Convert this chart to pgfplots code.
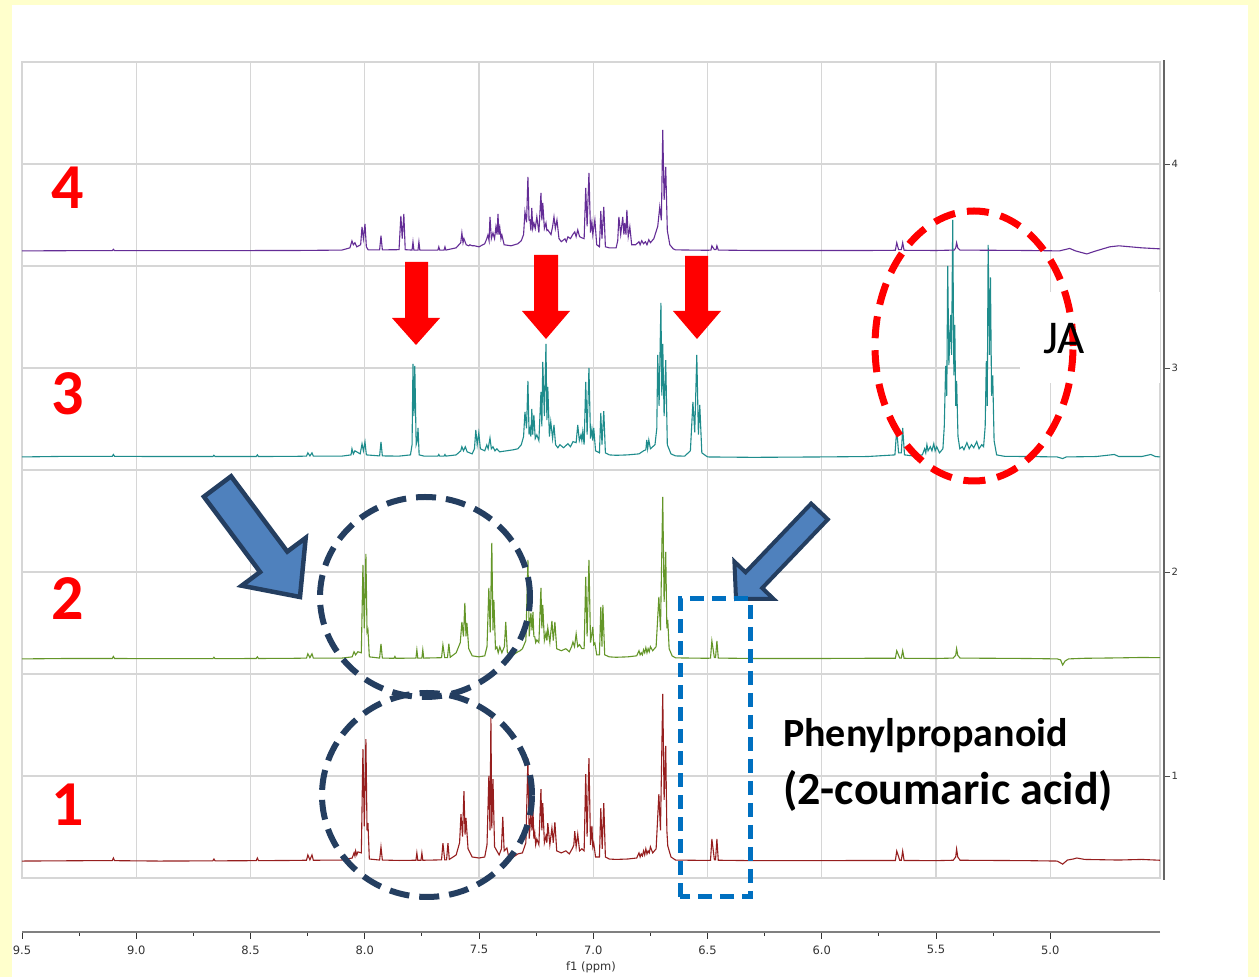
\documentclass[border=0pt]{standalone}
\usepackage{pgfplots}
\pgfplotsset{compat=1.18}
\usepackage{pgfplotstable}
\usepackage{fontspec}
\setmainfont{Carlito}
\newfontfamily\tickfont{DejaVu Sans}

\definecolor{bgyellow}{RGB}{255,255,204}
\definecolor{gridgray}{RGB}{214,214,214}
\definecolor{specred}{RGB}{150,30,30}
\definecolor{specgreen}{RGB}{100,150,40}
\definecolor{specteal}{RGB}{30,140,140}
\definecolor{specpurple}{RGB}{100,45,150}
\definecolor{navy}{RGB}{36,62,96}
\definecolor{arrowblue}{RGB}{79,129,189}
\definecolor{boxblue}{RGB}{0,112,192}

% spectrum 1 (bottom, red): ppm, intensity above baseline
\pgfplotstableread{
x y
9.50 0.000
9.20 0.002
9.105 0.002
9.100 0.015
9.095 0.002
8.90 0.000
8.665 0.001
8.660 0.010
8.655 0.001
8.475 0.002
8.470 0.015
8.465 0.002
8.33 0.003
8.255 0.004
8.249 0.030
8.240 0.006
8.231 0.030
8.225 0.004
8.10 0.005
8.055 0.015
8.047 0.040
8.043 0.025
8.040 0.050
8.035 0.030
8.030 0.045
8.015 0.040
8.008 0.549
8.002 0.170
7.995 0.598
7.990 0.150
7.986 0.186
7.980 0.010
7.935 0.005
7.929 0.069
7.923 0.005
7.85 0.003
7.776 0.004
7.772 0.040
7.768 0.004
7.754 0.004
7.750 0.040
7.746 0.004
7.70 0.005
7.664 0.006
7.658 0.088
7.650 0.006
7.642 0.006
7.636 0.088
7.630 0.008
7.600 0.030
7.585 0.090
7.579 0.230
7.572 0.120
7.566 0.343
7.561 0.130
7.557 0.211
7.548 0.060
7.530 0.020
7.50 0.015
7.475 0.020
7.465 0.080
7.457 0.417
7.452 0.150
7.448 0.701
7.444 0.160
7.439 0.402
7.432 0.070
7.422 0.050
7.412 0.030
7.402 0.060
7.396 0.216
7.390 0.050
7.378 0.064
7.370 0.020
7.350 0.020
7.330 0.035
7.310 0.040
7.295 0.090
7.286 0.505
7.280 0.110
7.273 0.235
7.268 0.150
7.264 0.255
7.260 0.110
7.256 0.137
7.252 0.080
7.247 0.108
7.238 0.080
7.229 0.353
7.225 0.150
7.221 0.284
7.214 0.090
7.207 0.123
7.203 0.090
7.199 0.186
7.190 0.080
7.181 0.162
7.175 0.090
7.168 0.191
7.160 0.050
7.140 0.040
7.120 0.050
7.105 0.035
7.090 0.065
7.085 0.080
7.081 0.147
7.075 0.070
7.068 0.132
7.060 0.050
7.050 0.060
7.040 0.050
7.033 0.426
7.027 0.120
7.019 0.505
7.012 0.080
7.006 0.172
7.002 0.070
6.998 0.088
6.990 0.020
6.973 0.020
6.967 0.260
6.961 0.060
6.954 0.284
6.947 0.020
6.93 0.010
6.90 0.008
6.85 0.010
6.81 0.015
6.800 0.040
6.795 0.020
6.790 0.035
6.785 0.025
6.780 0.050
6.775 0.030
6.770 0.060
6.765 0.035
6.760 0.050
6.755 0.040
6.750 0.070
6.740 0.040
6.725 0.060
6.713 0.328
6.706 0.150
6.696 0.819
6.690 0.300
6.683 0.564
6.678 0.150
6.674 0.074
6.660 0.020
6.640 0.005
6.50 0.003
6.487 0.004
6.481 0.108
6.470 0.006
6.465 0.006
6.459 0.108
6.453 0.004
6.30 0.002
6.00 0.002
5.80 0.003
5.678 0.003
5.672 0.049
5.659 0.004
5.652 0.004
5.646 0.049
5.640 0.003
5.50 0.002
5.425 0.004
5.414 0.020
5.410 0.059
5.405 0.020
5.395 0.004
5.10 0.002
4.97 0.000
4.946 -0.015
4.925 0.005
4.90 0.010
4.884 0.015
4.85 0.008
4.70 0.005
4.60 0.008
4.52 0.004
}\traceone

% spectrum 2 (green)
\pgfplotstableread{
x y
9.50 0.000
9.30 0.002
9.105 0.002
9.100 0.012
9.095 0.002
8.90 0.001
8.665 0.001
8.660 0.008
8.655 0.001
8.475 0.002
8.470 0.010
8.465 0.002
8.30 0.003
8.255 0.004
8.249 0.025
8.240 0.006
8.231 0.025
8.225 0.004
8.10 0.004
8.055 0.010
8.047 0.035
8.040 0.020
8.030 0.035
8.015 0.030
8.008 0.461
8.002 0.150
7.995 0.515
7.990 0.130
7.986 0.142
7.980 0.010
7.935 0.004
7.929 0.074
7.923 0.004
7.872 0.003
7.868 0.012
7.864 0.003
7.776 0.004
7.772 0.044
7.768 0.004
7.750 0.004
7.746 0.044
7.742 0.004
7.70 0.005
7.664 0.006
7.658 0.069
7.650 0.006
7.638 0.006
7.632 0.074
7.626 0.008
7.600 0.030
7.582 0.080
7.575 0.181
7.568 0.110
7.562 0.275
7.557 0.110
7.553 0.176
7.545 0.050
7.530 0.015
7.500 0.010
7.475 0.015
7.465 0.060
7.457 0.348
7.451 0.130
7.444 0.569
7.439 0.140
7.435 0.289
7.428 0.050
7.422 0.059
7.416 0.030
7.409 0.059
7.400 0.030
7.389 0.060
7.383 0.181
7.376 0.030
7.350 0.020
7.330 0.035
7.320 0.040
7.310 0.050
7.295 0.090
7.286 0.485
7.280 0.110
7.273 0.225
7.268 0.140
7.264 0.230
7.260 0.110
7.256 0.108
7.252 0.080
7.247 0.093
7.238 0.080
7.229 0.348
7.225 0.150
7.221 0.265
7.214 0.090
7.207 0.127
7.203 0.090
7.199 0.152
7.190 0.080
7.181 0.186
7.175 0.090
7.168 0.181
7.160 0.050
7.140 0.040
7.120 0.050
7.105 0.035
7.095 0.060
7.089 0.083
7.082 0.060
7.075 0.123
7.068 0.060
7.060 0.070
7.050 0.050
7.040 0.050
7.033 0.402
7.027 0.110
7.019 0.485
7.012 0.080
7.002 0.157
6.998 0.070
6.993 0.078
6.985 0.020
6.973 0.020
6.967 0.255
6.962 0.060
6.958 0.265
6.950 0.020
6.93 0.010
6.90 0.008
6.85 0.010
6.81 0.015
6.800 0.040
6.795 0.020
6.790 0.030
6.785 0.020
6.780 0.045
6.775 0.030
6.770 0.055
6.765 0.030
6.760 0.050
6.755 0.035
6.750 0.060
6.740 0.040
6.725 0.060
6.713 0.304
6.706 0.140
6.696 0.794
6.690 0.280
6.683 0.525
6.678 0.150
6.674 0.191
6.668 0.050
6.655 0.015
6.640 0.005
6.50 0.003
6.487 0.004
6.481 0.088
6.470 0.006
6.465 0.006
6.459 0.088
6.453 0.004
6.30 0.002
6.00 0.002
5.80 0.003
5.678 0.003
5.672 0.040
5.659 0.004
5.652 0.004
5.646 0.040
5.640 0.003
5.50 0.002
5.425 0.004
5.414 0.018
5.410 0.050
5.405 0.018
5.395 0.004
5.10 0.002
4.97 0.000
4.955 -0.005
4.946 -0.030
4.935 -0.010
4.92 0.000
4.85 0.003
4.70 0.005
4.60 0.007
4.52 0.006
}\tracetwo

% spectrum 3 (teal)
\pgfplotstableread{
x y
9.50 0.000
9.30 0.003
9.105 0.003
9.100 0.012
9.095 0.003
8.90 0.002
8.665 0.002
8.660 0.008
8.655 0.002
8.475 0.002
8.470 0.010
8.465 0.002
8.30 0.003
8.255 0.004
8.249 0.020
8.240 0.005
8.231 0.020
8.225 0.004
8.10 0.004
8.060 0.010
8.056 0.040
8.050 0.015
8.043 0.030
8.020 0.015
8.012 0.064
8.006 0.030
7.999 0.074
7.993 0.010
7.935 0.005
7.929 0.074
7.923 0.005
7.85 0.004
7.800 0.010
7.793 0.060
7.789 0.456
7.785 0.200
7.781 0.446
7.775 0.060
7.770 0.080
7.767 0.142
7.762 0.010
7.74 0.004
7.680 0.004
7.676 0.012
7.672 0.004
7.653 0.004
7.649 0.012
7.645 0.004
7.600 0.010
7.580 0.030
7.575 0.050
7.568 0.030
7.560 0.050
7.552 0.025
7.530 0.015
7.520 0.040
7.514 0.132
7.508 0.060
7.501 0.118
7.494 0.040
7.475 0.030
7.466 0.059
7.460 0.040
7.452 0.093
7.446 0.040
7.439 0.050
7.430 0.030
7.422 0.040
7.410 0.025
7.380 0.030
7.350 0.035
7.330 0.040
7.315 0.060
7.305 0.100
7.299 0.221
7.292 0.140
7.286 0.373
7.281 0.110
7.277 0.137
7.273 0.100
7.269 0.235
7.265 0.110
7.260 0.206
7.254 0.090
7.247 0.108
7.238 0.080
7.229 0.319
7.225 0.150
7.221 0.466
7.214 0.200
7.207 0.554
7.203 0.180
7.199 0.343
7.192 0.100
7.186 0.172
7.178 0.090
7.172 0.157
7.165 0.060
7.155 0.045
7.146 0.060
7.130 0.045
7.111 0.065
7.100 0.050
7.089 0.075
7.075 0.070
7.068 0.157
7.061 0.080
7.054 0.108
7.050 0.080
7.046 0.123
7.040 0.060
7.033 0.368
7.027 0.110
7.019 0.436
7.012 0.090
7.006 0.137
7.002 0.080
6.998 0.142
6.990 0.030
6.973 0.020
6.967 0.216
6.962 0.060
6.954 0.225
6.947 0.020
6.93 0.010
6.90 0.008
6.85 0.010
6.80 0.015
6.780 0.030
6.770 0.035
6.766 0.083
6.762 0.040
6.757 0.083
6.750 0.040
6.730 0.060
6.722 0.140
6.718 0.500
6.712 0.250
6.704 0.755
6.700 0.300
6.696 0.554
6.690 0.200
6.683 0.475
6.676 0.060
6.660 0.015
6.640 0.005
6.600 0.004
6.575 0.030
6.564 0.270
6.556 0.120
6.547 0.500
6.540 0.110
6.534 0.255
6.525 0.020
6.500 0.000
6.30 -0.002
6.00 0.000
5.80 0.002
5.680 0.010
5.672 0.137
5.664 0.020
5.652 0.020
5.646 0.142
5.638 0.010
5.600 0.005
5.560 0.010
5.550 0.040
5.545 0.020
5.540 0.060
5.535 0.030
5.525 0.050
5.518 0.030
5.510 0.065
5.504 0.030
5.497 0.050
5.485 0.020
5.470 0.040
5.464 0.150
5.458 0.446
5.453 0.300
5.449 0.936
5.444 0.450
5.436 0.696
5.432 0.500
5.427 1.162
5.422 0.400
5.418 0.647
5.414 0.250
5.410 0.373
5.404 0.100
5.396 0.040
5.385 0.050
5.378 0.035
5.365 0.070
5.355 0.040
5.345 0.060
5.335 0.045
5.322 0.075
5.312 0.040
5.300 0.060
5.292 0.050
5.285 0.150
5.280 0.470
5.276 0.250
5.272 1.040
5.266 0.500
5.262 0.880
5.257 0.300
5.252 0.400
5.246 0.080
5.235 0.010
5.20 0.003
5.10 0.002
4.97 0.000
4.946 -0.008
4.930 0.000
4.80 0.002
4.72 0.012
4.70 0.002
4.60 0.002
4.56 0.012
4.54 0.002
4.52 0.000
}\tracethree

% spectrum 4 (top, purple)
\pgfplotstableread{
x y
9.50 0.000
9.30 0.001
9.105 0.001
9.100 0.008
9.095 0.001
8.90 0.001
8.30 0.002
8.10 0.004
8.065 0.015
8.056 0.049
8.050 0.030
8.043 0.040
8.035 0.020
8.018 0.030
8.012 0.118
8.006 0.060
7.999 0.132
7.993 0.020
7.985 0.005
7.935 0.005
7.929 0.074
7.923 0.005
7.85 0.006
7.842 0.172
7.836 0.060
7.829 0.181
7.823 0.006
7.793 0.004
7.789 0.044
7.785 0.004
7.767 0.004
7.763 0.044
7.759 0.004
7.680 0.004
7.676 0.020
7.672 0.004
7.653 0.004
7.649 0.020
7.645 0.004
7.600 0.015
7.580 0.040
7.575 0.088
7.570 0.040
7.566 0.060
7.556 0.030
7.545 0.025
7.540 0.030
7.530 0.025
7.520 0.025
7.500 0.020
7.475 0.035
7.466 0.060
7.461 0.078
7.456 0.050
7.452 0.167
7.446 0.060
7.439 0.088
7.432 0.060
7.426 0.118
7.421 0.080
7.417 0.181
7.413 0.080
7.409 0.113
7.404 0.060
7.400 0.078
7.390 0.030
7.360 0.025
7.330 0.035
7.315 0.050
7.305 0.080
7.299 0.191
7.292 0.140
7.286 0.363
7.281 0.150
7.277 0.152
7.273 0.100
7.269 0.211
7.265 0.110
7.260 0.137
7.254 0.110
7.247 0.167
7.238 0.090
7.229 0.284
7.225 0.150
7.221 0.235
7.214 0.110
7.207 0.137
7.203 0.100
7.199 0.103
7.185 0.080
7.178 0.120
7.172 0.167
7.166 0.110
7.159 0.152
7.150 0.060
7.140 0.045
7.124 0.059
7.118 0.045
7.111 0.069
7.100 0.060
7.090 0.080
7.081 0.093
7.075 0.070
7.068 0.103
7.060 0.070
7.050 0.064
7.040 0.060
7.033 0.309
7.027 0.120
7.019 0.382
7.012 0.090
7.006 0.142
7.002 0.080
6.993 0.152
6.985 0.030
6.973 0.020
6.967 0.196
6.962 0.060
6.954 0.216
6.947 0.020
6.930 0.015
6.900 0.015
6.893 0.050
6.888 0.167
6.880 0.080
6.871 0.167
6.866 0.080
6.862 0.137
6.857 0.080
6.853 0.201
6.847 0.070
6.840 0.118
6.832 0.030
6.815 0.030
6.800 0.045
6.795 0.030
6.788 0.050
6.780 0.035
6.772 0.045
6.765 0.030
6.757 0.055
6.750 0.040
6.735 0.060
6.718 0.120
6.709 0.216
6.702 0.150
6.696 0.593
6.690 0.250
6.683 0.412
6.676 0.100
6.665 0.030
6.650 0.010
6.640 0.005
6.500 0.003
6.485 0.004
6.481 0.025
6.470 0.006
6.463 0.006
6.459 0.025
6.453 0.004
6.30 0.002
6.00 0.002
5.80 0.002
5.678 0.003
5.672 0.040
5.664 0.006
5.652 0.006
5.646 0.040
5.640 0.003
5.50 0.002
5.420 0.004
5.414 0.015
5.410 0.040
5.405 0.015
5.395 0.004
5.10 0.002
4.96 0.000
4.915 0.012
4.890 0.000
4.840 -0.015
4.800 0.000
4.740 0.020
4.700 0.025
4.600 0.015
4.520 0.010
}\tracefour

\begin{document}
\begin{tikzpicture}[x=1pt,y=1pt]
\useasboundingbox (0,0) rectangle (1259,977);
\fill[bgyellow] (0,0) rectangle (1259,977);
\fill[white] (12,0) rectangle (1248,972);

% stacked spectra with grid
\begin{axis}[at={(22pt,99pt)}, anchor=south west,
  width=1138pt, height=816pt, scale only axis,
  xmin=4.52, xmax=9.5, x dir=reverse, ymin=0.5, ymax=4.5,
  xtick={5,5.5,...,9.5}, ytick={1,1.5,...,4},
  xticklabels={}, yticklabels={}, major tick length=0pt,
  grid=major, grid style={gridgray, line width=1.4pt},
  axis line style={gridgray, line width=1.6pt}]
\addplot[specred, line width=1.1pt] table[x=x, y expr=\thisrow{y}+0.583] {\traceone};
\addplot[specgreen, line width=1.1pt] table[x=x, y expr=\thisrow{y}+1.574] {\tracetwo};
\addplot[specteal, line width=1.1pt] table[x=x, y expr=\thisrow{y}+2.564] {\tracethree};
\addplot[specpurple, line width=1.1pt] table[x=x, y expr=\thisrow{y}+3.574] {\tracefour};
\end{axis}

% right intensity axis
\begin{axis}[at={(26pt,97pt)}, anchor=south west,
  width=1138pt, height=820pt, scale only axis,
  xmin=4.52, xmax=9.5, ymin=0.49, ymax=4.51,
  axis x line=none, axis y line*=right,
  axis line style={-, black!60, line width=1.4pt},
  ytick={1,2,3,4}, tick align=outside, major tick length=6pt,
  tick style={black!70, line width=0.9pt},
  yticklabel style={font=\tickfont\fontsize{10}{12}\selectfont, text=black!80, xshift=-2pt,
    /pgf/number format/assume math mode=true}]
\addplot[draw=none] coordinates {(5,1)};
\end{axis}

% chemical shift axis
\begin{axis}[at={(22pt,45pt)}, anchor=south west,
  width=1138pt, height=10pt, scale only axis,
  xmin=4.52, xmax=9.5, x dir=reverse, ymin=0, ymax=1,
  axis y line=none, axis x line*=bottom,
  axis line style={-, black!50, line width=1.6pt},
  xtick={5,5.5,...,9.5}, minor x tick num=1,
  tick align=outside, major tick length=7pt, minor tick length=4pt,
  tick style={black!80, line width=0.9pt},
  xticklabel style={font=\tickfont\fontsize{11.5}{13}\selectfont, text=black!80, yshift=-3pt,
    /pgf/number format/fixed, /pgf/number format/fixed zerofill,
    /pgf/number format/precision=1, /pgf/number format/assume math mode=true},
  xlabel={f1 (ppm)},
  xlabel style={font=\tickfont\fontsize{11.5}{13}\selectfont, text=black!80, yshift=-1pt}]
\addplot[draw=none] coordinates {(5,0.5)};
\end{axis}

% red arrows
\fill[red] (405,715) -- (428,715) -- (428,659) -- (440,659) -- (416,632) -- (392,659) -- (405,659) -- cycle;
\fill[red] (534,722) -- (558,722) -- (558,666) -- (570,666) -- (546,638) -- (522,666) -- (534,666) -- cycle;
\fill[red] (685,721) -- (708,721) -- (708,666) -- (721,666) -- (697,638) -- (673,666) -- (685,666) -- cycle;

% blue block arrows
\filldraw[fill=arrowblue, draw=navy, line width=4.5pt, line join=miter]
  (203.9,480.3) -- (260.1,405) -- (241.7,391.3) -- (300,380) -- (305.7,439.1) -- (287.3,425.4) -- (231.1,500.7) -- cycle;
\filldraw[fill=arrowblue, draw=navy, line width=4pt, line join=miter]
  (811.2,473.4) -- (745.6,404.7) -- (734.4,415.4) -- (736,378) -- (773.4,378.2) -- (762.2,388.9) -- (827.8,457.6) -- cycle;

% dashed circles
\draw[navy, line width=6pt, dash pattern=on 20pt off 10pt] (425,380) ellipse [x radius=105, y radius=100];
\draw[navy, line width=6pt, dash pattern=on 20pt off 10pt] (427,182) ellipse [x radius=105, y radius=102];

% JA label and red ellipse
\fill[white] (1020,594) rectangle (1160,685);
\draw[red, line width=7pt, dash pattern=on 22pt off 12pt] (974,631) ellipse [x radius=99, y radius=135];
\node[anchor=base west, inner sep=0pt, font=\fontsize{47}{50}\selectfont] at (1043,623) {JA};

% blue dashed box
\draw[boxblue, line width=5pt, dash pattern=on 14pt off 8pt] (680,80) rectangle (750,378);

% spectrum numbers
\node[anchor=base, inner sep=0pt, text=red, font=\bfseries\fontsize{64}{64}\selectfont] at (68,768) {4};
\node[anchor=base, inner sep=0pt, text=red, font=\bfseries\fontsize{64}{64}\selectfont] at (68,562) {3};
\node[anchor=base, inner sep=0pt, text=red, font=\bfseries\fontsize{64}{64}\selectfont] at (68,357) {2};
\node[anchor=base, inner sep=0pt, text=red, font=\bfseries\fontsize{64}{64}\selectfont] at (68,151) {1};

% compound label
\node[anchor=base west, inner sep=0pt, font=\bfseries\fontsize{40}{43}\selectfont] at (783,230) {Phenylpropanoid};
\node[anchor=base west, inner sep=0pt, font=\bfseries\fontsize{46}{49}\selectfont] at (783,172) {(2-coumaric acid)};
\end{tikzpicture}
\end{document}
